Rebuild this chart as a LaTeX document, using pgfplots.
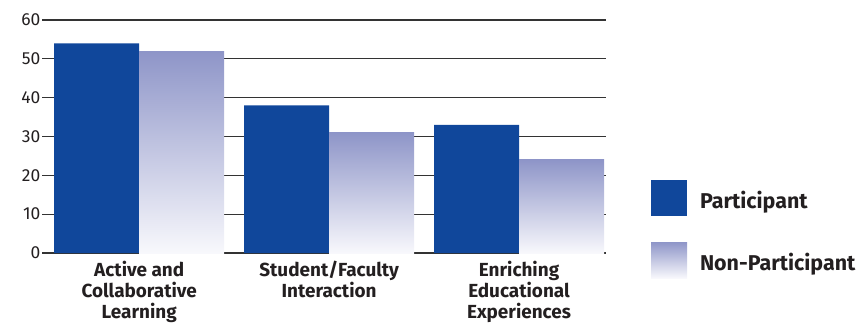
\documentclass[border=0pt]{standalone}
\usepackage{fontspec}
\setmainfont{Fira Sans}
\usepackage{pgfplots}
\pgfplotsset{compat=1.18}

\definecolor{partblue}{HTML}{10479B}
\definecolor{nontop}{HTML}{8E95C8}
\definecolor{nonbot}{HTML}{F8F8FC}
\definecolor{txt}{HTML}{231F20}
\definecolor{gridc}{HTML}{333333}

% shaded bar style: each bar is its own plot so the gradient runs over its own height
\pgfplotsset{nonpart/.style={top color=nontop, bottom color=nonbot, draw=none, bar shift=42.5bp}}

\begin{document}
\begin{tikzpicture}
\useasboundingbox (0,0) rectangle (859bp,-326bp);
\begin{axis}[
  at={(42bp,-253bp)}, anchor=south west,
  scale only axis, width=564bp, height=233bp,
  xmin=-0.512, xmax=2.458, ymin=0, ymax=60,
  ytick={0,10,...,60},
  xtick={0,1,2},
  xticklabels={{Active and\\Collaborative\\Learning},{Student/Faculty\\Interaction},{Enriching\\Educational\\Experiences}},
  axis line style={draw=none},
  major tick length=0pt,
  ymajorgrids,
  grid style={gridc, line width=1.3bp},
  /pgf/number format/assume math mode=true,
  yticklabel style={font=\fontsize{17.5}{19}\selectfont, text=txt, anchor=east, inner sep=1.5bp},
  xticklabel style={font=\bfseries\fontsize{19}{21}\selectfont, text=txt, align=center, anchor=north, inner sep=0pt, yshift=-8bp},
  ybar=0pt, bar width=85bp,
  legend style={at={(1.0798,0.3133)}, anchor=north west, draw=none, fill=none,
    font=\bfseries\fontsize{21.5}{24}\selectfont, text=txt,
    row sep=26bp, inner sep=0pt, outer sep=0pt},
  legend cell align=left,
  legend image code/.code={\path[#1,draw=none] (0bp,-15bp) rectangle (36bp,21bp); \path (47bp,0bp);},
]
\addplot[fill=partblue, draw=none, bar shift=-42.5bp] coordinates {(0,54) (1,38) (2,33)};
\addlegendentry{Participant}
\addplot[nonpart] coordinates {(0,52)};
\addlegendentry{Non-Participant}
\addplot[nonpart, forget plot] coordinates {(1,31)};
\addplot[nonpart, forget plot] coordinates {(2,24)};
\end{axis}
\end{tikzpicture}
\end{document}
